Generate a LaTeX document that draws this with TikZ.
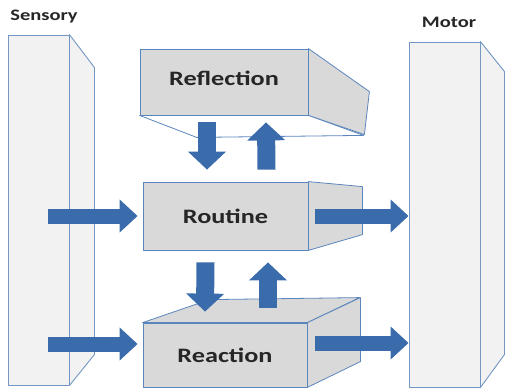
\documentclass[tikz,border=0pt]{standalone}
\usepackage{fontspec}
\newfontfamily\calfont{Carlito}[FakeStretch=1.28]
\usetikzlibrary{arrows.meta,calc}
\definecolor{panelfill}{HTML}{F2F2F2}
\definecolor{paneledge}{HTML}{7397C4}
\definecolor{boxfill}{HTML}{D9D9D9}
\definecolor{boxedge}{HTML}{5B86BD}
\definecolor{flowblue}{HTML}{3A6CAB}
\tikzset{
  panel/.style={draw=paneledge, fill=panelfill, line width=0.9pt, line join=round},
  stage/.style={draw=boxedge, fill=boxfill, line width=0.8pt, line join=round},
  stagetext/.style={font=\calfont\bfseries\fontsize{20.5}{22}\selectfont, text=black!85},
  sidetext/.style={font=\calfont\bfseries\fontsize{16}{18}\selectfont, text=black!85},
  hflow/.style={draw=flowblue, line width=15pt, -{Triangle[length=18pt,width=32pt]}},
  vflow/.style={draw=flowblue, line width=18pt, -{Triangle[length=18pt,width=37pt]}},
}
\begin{document}
\begin{tikzpicture}[x=1pt, y=-1pt]
            \useasboundingbox (0,0) rectangle (505,388);

            % side panels
            \node[panel, inner sep=0, minimum width=61pt, minimum height=350pt] (sens) at (38.5,210) {};
            \draw[panel] (sens.north east) -- ++(25,33) -- ++(0,287) -- (sens.south east) -- cycle;
            \node[panel, inner sep=0, minimum width=71pt, minimum height=345pt] (motor) at (444.5,214.5) {};
            \draw[panel] (motor.north east) -- ++(24,30) -- ++(0,283) -- (motor.south east) -- cycle;
            \node[sidetext] (senslbl) at (44,17) {Sensory};
            \node[sidetext] (motorlbl) at (449,22) {Motor};

            % Reflection, seen from below
            \node[stage, stagetext, inner sep=0, text depth=8pt, minimum width=168pt, minimum height=66pt] (refl) at (224,82) {Reflection};
            \draw[stage] (refl.north east) -- ++(61,43) -- ++(-5,43) -- (refl.south east) -- cycle;
            \draw[stage, fill=white] (refl.south west) -- ++(57,22) -- ++(167,-2) -- (refl.south east) -- cycle;

            % Routine
            \node[stage, stagetext, inner sep=0, minimum width=165pt, minimum height=68pt] (rout) at (225.5,216) {Routine};
            \draw[stage] (rout.north east) -- ++(54,5) -- ++(0,48) -- (rout.south east) -- cycle;

            % Reaction, seen from above
            \node[stage, stagetext, inner sep=0, minimum width=164pt, minimum height=64pt] (reac) at (225,355) {Reaction};
            \draw[stage] (reac.north west) -- ++(67,-23) -- ++(150,-2) -- (reac.north east) -- cycle;
            \draw[stage] (reac.north east) -- ++(53,-25) -- ++(0,64) -- (reac.south east) -- cycle;

            % flows
            \draw[hflow] ($(sens.east |- rout.west)+(-21,0)$) -- ($(rout.west)+(-5,0)$);
            \draw[hflow] ($(sens.east |- reac.west)+(-21,-11)$) -- ($(reac.west)+(-5,-11)$);
            \draw[hflow] ($(rout.east)+(7,0)$) -- (motor.west |- rout.east);
            \draw[hflow] ($(reac.east)+(8,-12)$) -- ($(motor.west |- reac.east)+(0,-12)$);
            \draw[vflow] ($(refl.south)+(-17,7)$) -- ($(rout.north)+(-18.5,-12)$);
            \draw[vflow] ($(rout.north)+(41,-12)$) -- ($(refl.south)+(42,7)$);
            \draw[vflow] ($(rout.south)+(-20,12)$) -- ($(reac.north)+(-20,-11)$);
            \draw[vflow] ($(reac.north)+(43,-15)$) -- ($(rout.south)+(42.5,12)$);
        \end{tikzpicture}
\end{document}
